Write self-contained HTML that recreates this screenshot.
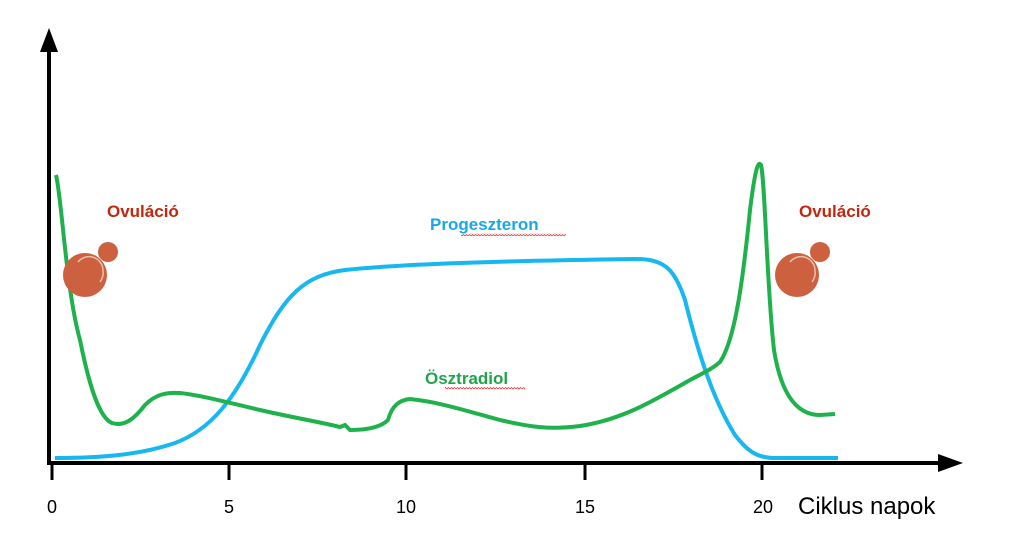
<!DOCTYPE html>
<html><head><meta charset="utf-8"><style>html,body{margin:0;padding:0;background:#fff}</style></head>
<body>
<svg width="1010" height="551" viewBox="0 0 1010 551" xmlns="http://www.w3.org/2000/svg" font-family="Liberation Sans, sans-serif">
<defs><pattern id="w" width="6" height="3" patternUnits="userSpaceOnUse"><path d="M0 2 L1.5 0.5 L3 2 L4.5 0.5 L6 2" stroke="#e33" stroke-width="0.8" fill="none"/></pattern></defs>
<line x1="49" y1="463" x2="49" y2="48" stroke="#000" stroke-width="4"/>
<polygon points="49,28 40,52 58,52" fill="#000"/>
<line x1="47" y1="463" x2="945" y2="463" stroke="#000" stroke-width="4"/>
<polygon points="963,463 938,454 938,472" fill="#000"/>
<g stroke="#000" stroke-width="3">
<line x1="52" y1="463" x2="52" y2="480"/><line x1="229" y1="463" x2="229" y2="480"/>
<line x1="406" y1="463" x2="406" y2="480"/><line x1="585" y1="463" x2="585" y2="480"/>
<line x1="762" y1="463" x2="762" y2="480"/></g>
<g font-size="18" text-anchor="middle" fill="#000">
<text x="52" y="513">0</text><text x="229" y="513">5</text><text x="406" y="513">10</text>
<text x="585" y="513">15</text><text x="763" y="513">20</text></g>
<text x="798" y="514" font-size="24" fill="#000">Ciklus napok</text>
<path d="M55 458 C100 458 140 455 175 443 C210 430 235 400 260 345 C285 295 305 275 345 270 C400 264 500 261 640 259 C665 260 675 270 685 300 C695 340 710 395 735 435 C748 452 758 458 775 458 L838 458" fill="none" stroke="#17b7f0" stroke-width="4"/>
<path d="M56 175 C62 200 66 290 80 340 C90 390 100 418 112 423 C125 427 135 418 145 405 C155 395 165 392 180 393 C200 395 230 403 260 410 C290 417 320 422 340 427 L345 425 L350 430 C365 430 380 428 388 420 C392 405 400 400 410 399 C440 402 470 412 500 420 C530 427 550 430 580 426 C620 420 650 403 690 380 C705 372 712 369 720 362 C735 340 743 280 750 210 C755 170 758 160 761 165 C765 180 767 290 774 350 C782 400 800 415 820 415 L835 414" fill="none" stroke="#1fb24c" stroke-width="4"/>
<text x="107" y="217" font-size="17" font-weight="bold" fill="#c1280f">Ovuláció</text>
<text x="799" y="217" font-size="17" font-weight="bold" fill="#c1280f">Ovuláció</text>
<text x="430" y="230" font-size="17" font-weight="bold" fill="#18a8ea">Progeszteron</text>
<rect x="461" y="233" width="105" height="3" fill="url(#w)"/>
<text x="425" y="384" font-size="17" font-weight="bold" fill="#1ea54c">Ösztradiol</text>
<rect x="445" y="387" width="80" height="3" fill="url(#w)"/>
<g fill="#cd603e">
<circle cx="108" cy="252" r="10"/><circle cx="85" cy="275" r="22"/>
<circle cx="820" cy="252" r="10"/><circle cx="797" cy="275" r="22"/></g>
<path d="M78 262 A14 14 0 0 1 103 270 A16 16 0 0 1 100 282" fill="none" stroke="#e8c0b0" stroke-width="1.5"/>
<path d="M790 262 A14 14 0 0 1 815 270 A16 16 0 0 1 812 282" fill="none" stroke="#e8c0b0" stroke-width="1.5"/>
</svg>
</body></html>
